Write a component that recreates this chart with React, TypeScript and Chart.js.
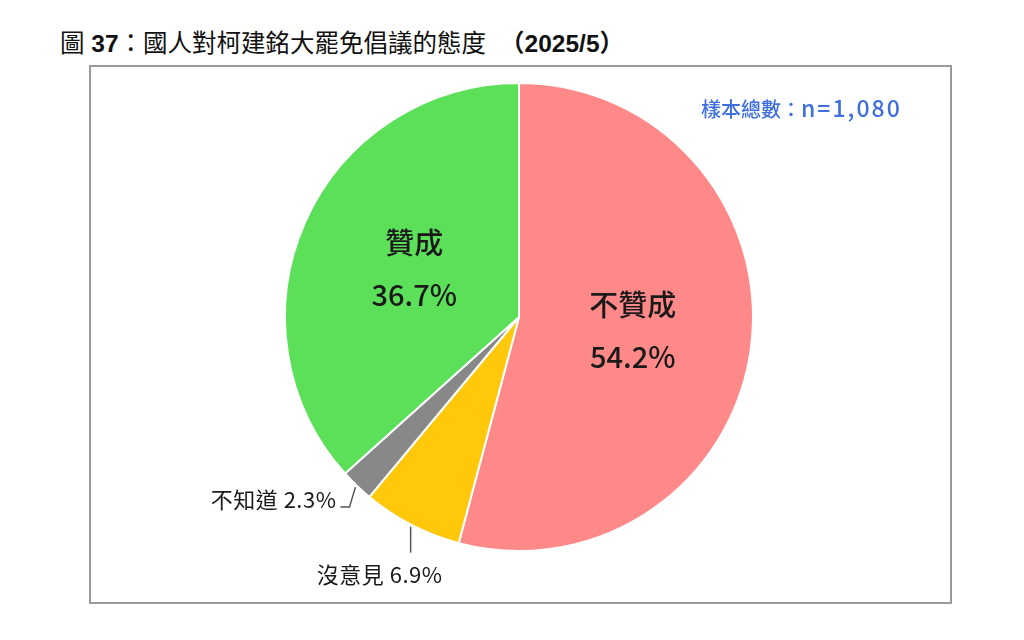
import React, { useEffect, useRef } from 'react';
import { Chart, registerables } from 'chart.js';

Chart.register(...registerables);

// Survey answers, clockwise from 12 o'clock
const categories = ['不贊成', '沒意見', '不知道', '贊成'];
const shares = [54.2, 6.9, 2.3, 36.7];
const sliceColors = ['#FF8888', '#FFC80A', '#888888', '#5CE05A'];

const titleText = '國人對柯建銘大罷免倡議的態度';
const sampleLabel = '樣本總數：';
const sampleValue = 'n=1,080';

const CJK = '"Noto Sans CJK TC", "Noto Sans", sans-serif';

// Draws labels inside big slices and leader-line labels for the two small ones
const sliceLabels = {
  id: 'sliceLabels',
  afterDatasetsDraw(chart: Chart) {
    const ctx = chart.ctx;
    const arcs = chart.getDatasetMeta(0).data as any[];
    ctx.save();
    ctx.fillStyle = '#1a1a1a';
    ctx.strokeStyle = '#555555';
    ctx.lineWidth = 1.5;
    arcs.forEach((arc, i) => {
      const { x, y, startAngle, endAngle, outerRadius } = arc.getProps(
        ['x', 'y', 'startAngle', 'endAngle', 'outerRadius'],
        true
      );
      const mid = (startAngle + endAngle) / 2;
      const cos = Math.cos(mid);
      const sin = Math.sin(mid);
      const pct = shares[i].toFixed(1) + '%';
      if (shares[i] > 10) {
        const r = outerRadius * 0.49;
        const lx = x + cos * r;
        const ly = y + sin * r;
        ctx.font = `500 29px ${CJK}`;
        ctx.textAlign = 'center';
        ctx.textBaseline = 'middle';
        ctx.fillText(categories[i], lx, ly - 27);
        ctx.fillText(pct, lx, ly + 25);
        return;
      }
      const ex = x + cos * (outerRadius + 2);
      const ey = y + sin * (outerRadius + 2);
      ctx.font = `22px ${CJK}`;
      (ctx as any).letterSpacing = '0.5px';
      ctx.textBaseline = 'middle';
      ctx.beginPath();
      if (i === 1) {
        // vertical leader under the slice
        ctx.moveTo(ex, ey);
        ctx.lineTo(ex, ey + 26);
        ctx.stroke();
        ctx.textAlign = 'center';
        ctx.fillText(`${categories[i]} ${pct}`, ex - 31, ey + 48);
      } else {
        // slanted leader with a short foot to the left
        ctx.moveTo(ex, ey);
        ctx.lineTo(ex - 6, ey + 20);
        ctx.lineTo(ex - 15, ey + 20);
        ctx.stroke();
        ctx.textAlign = 'right';
        ctx.fillText(`${categories[i]} ${pct}`, ex - 19, ey + 13);
      }
      (ctx as any).letterSpacing = '0px';
    });
    ctx.restore();
  },
};

export default function App() {
  const canvasRef = useRef<HTMLCanvasElement>(null);

  useEffect(() => {
    if (!canvasRef.current) return;
    const chart = new Chart(canvasRef.current, {
      type: 'pie',
      data: {
        labels: categories,
        datasets: [
          {
            data: shares,
            backgroundColor: sliceColors,
            borderColor: '#ffffff',
            borderWidth: 2,
          },
        ],
      },
      options: {
        responsive: false,
        animation: false,
        layout: { padding: { left: 284, top: 82, right: 270, bottom: 88 } },
        plugins: {
          legend: { display: false },
          tooltip: { enabled: false },
        },
      },
      plugins: [sliceLabels],
    });
    return () => {
      chart.destroy();
    };
  }, []);

  return (
    <div
      style={{
        position: 'fixed',
        left: 0,
        top: 0,
        width: 1024,
        height: 640,
        background: '#ffffff',
        overflow: 'hidden',
      }}
    >
      <div
        style={{
          position: 'absolute',
          left: 60,
          top: 29,
          fontSize: 24.5,
          lineHeight: '30px',
          color: '#111',
          fontFamily: `"Liberation Sans", Arial, ${CJK}`,
          whiteSpace: 'nowrap',
        }}
      >
        <span>圖 </span>
        <b>37</b>
        <span>：{titleText}</span>
        <b style={{ marginLeft: 14 }}>（2025/5）</b>
      </div>
      <div
        style={{
          position: 'absolute',
          left: 89,
          top: 65,
          width: 859,
          height: 535,
          border: '2px solid #9a9a9a',
        }}
      />
      <canvas
        ref={canvasRef}
        width={1024}
        height={640}
        style={{ position: 'absolute', left: 0, top: 0 }}
      />
      <div
        style={{
          position: 'absolute',
          left: 701,
          top: 92,
          fontSize: 20,
          lineHeight: '30px',
          color: '#3F6FE0',
          fontFamily: CJK,
          fontWeight: 500,
          whiteSpace: 'nowrap',
        }}
      >
        {sampleLabel}
        <span style={{ fontSize: 23, letterSpacing: 2 }}>{sampleValue}</span>
      </div>
    </div>
  );
}
